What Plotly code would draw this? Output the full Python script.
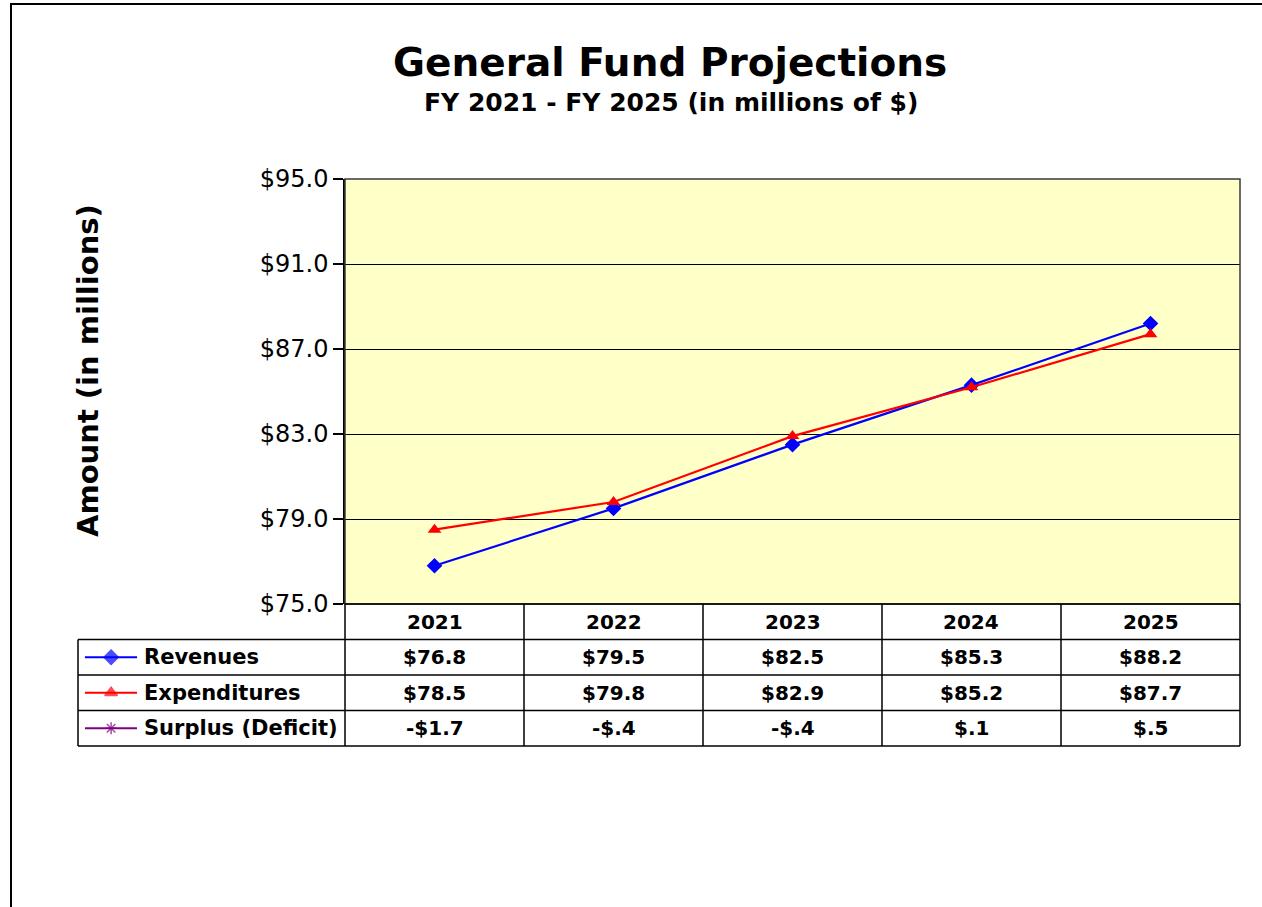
import plotly.graph_objects as go

# ---- data -------------------------------------------------------------
years = ["2021", "2022", "2023", "2024", "2025"]
revenues = [76.8, 79.5, 82.5, 85.3, 88.2]
expenditures = [78.5, 79.8, 82.9, 85.2, 87.7]
surplus = [-1.7, -0.4, -0.4, 0.1, 0.5]
series_names = ["Revenues", "Expenditures", "Surplus (Deficit)"]
y_ticks = [75, 79, 83, 87, 91, 95]

# ---- layout constants (pixels) ----------------------------------------
W, H = 1262, 907
ML, MR, MT, MB = 78, 22, 179, 161
LEGEND_COL_W = 267          # width of the series-name column of the data table
TABLE_H = 142               # height of the data table under the chart
N_ROWS = 4                  # header row + one row per series

plot_w = W - ML - MR
plot_h = H - MT - MB
d0 = LEGEND_COL_W / plot_w  # start of the chart's x domain (paper units)
tb = TABLE_H / plot_h       # top of the table / bottom of the chart (paper units)

FONT = "DejaVu Sans"
BLUE, RED, PURPLE = "#0000FF", "#FF0000", "#800080"


def money(v):
    s = f"{abs(v):.1f}"
    if s.startswith("0"):
        s = s[1:]
    return ("-" if v < 0 else "") + "$" + s


def px_x(x):
    return (x - ML) / plot_w


def px_y(y):
    return (H - MB - y) / plot_h


def col_center(i):
    return d0 + (i + 0.5) / len(years) * (1 - d0)


def row_center(r):
    return tb * (1 - (r + 0.5) / N_ROWS)


xi = list(range(len(years)))

fig = go.Figure()

# chart lines
fig.add_trace(go.Scatter(
    x=xi, y=revenues, mode="lines+markers", name=series_names[0],
    line=dict(color=BLUE, width=2.2),
    marker=dict(symbol="diamond", size=12, color=BLUE),
    xaxis="x", yaxis="y", cliponaxis=True,
))
fig.add_trace(go.Scatter(
    x=xi, y=expenditures, mode="lines+markers", name=series_names[1],
    line=dict(color=RED, width=2.2),
    marker=dict(symbol="triangle-up", size=12, color=RED),
    xaxis="x", yaxis="y", cliponaxis=True,
))
fig.add_trace(go.Scatter(
    x=xi, y=surplus, mode="lines+markers", name=series_names[2],
    line=dict(color=PURPLE, width=2),
    marker=dict(symbol="asterisk", size=10, line=dict(color=PURPLE, width=1.5)),
    xaxis="x", yaxis="y", cliponaxis=True,
))

# legend keys inside the table's first column
key_styles = [
    dict(color=BLUE, symbol="diamond", size=11),
    dict(color=RED, symbol="triangle-up", size=11),
    dict(color=PURPLE, symbol="asterisk", size=10),
]
for r, st in enumerate(key_styles, start=1):
    fig.add_trace(go.Scatter(
        x=[0.026, 0.124, 0.221], y=[r + 0.5] * 3, mode="lines+markers",
        line=dict(color=st["color"], width=2),
        marker=dict(symbol=st["symbol"], size=[0, st["size"], 0], color=st["color"],
                    line=dict(color=st["color"], width=1.5)),
        xaxis="x2", yaxis="y2", hoverinfo="skip", showlegend=False,
    ))

shapes = []
# yellow plot area
shapes.append(dict(type="rect", xref="x domain", yref="y domain", x0=0, x1=1, y0=0, y1=1,
                   fillcolor="#FFFFC8", line=dict(width=0), layer="below"))
# plot area border
shapes.append(dict(type="rect", xref="x domain", yref="y domain", x0=0, x1=1, y0=0, y1=1,
                   line=dict(color="#3a3a3a", width=1.5), layer="above"))

# table grid
tline = dict(color="black", width=1.5)
col_edges = [d0 + k / len(years) * (1 - d0) for k in range(len(years) + 1)]
row_edges = [tb * (1 - r / N_ROWS) for r in range(N_ROWS + 1)]
for k, xe in enumerate(col_edges):
    shapes.append(dict(type="line", xref="paper", yref="paper", x0=xe, x1=xe,
                       y0=row_edges[-1], y1=row_edges[0], line=tline))
shapes.append(dict(type="line", xref="paper", yref="paper", x0=0, x1=0,
                   y0=row_edges[-1], y1=row_edges[1], line=tline))
for r, ye in enumerate(row_edges):
    x_start = d0 if r == 0 else 0
    shapes.append(dict(type="line", xref="paper", yref="paper", x0=x_start, x1=1,
                       y0=ye, y1=ye, line=tline))

# outer chart frame
shapes.append(dict(type="rect", xref="paper", yref="paper",
                   x0=px_x(11), x1=px_x(W + 40), y0=px_y(H + 40), y1=px_y(4),
                   line=dict(color="black", width=2), fillcolor="rgba(0,0,0,0)"))

annotations = []
annotations.append(dict(text="<b>General Fund Projections</b>", xref="paper", yref="paper",
                        x=px_x(670), y=px_y(62), showarrow=False,
                        font=dict(family=FONT, size=39, color="black"),
                        xanchor="center", yanchor="middle"))
annotations.append(dict(text="<b>FY 2021 - FY 2025 (in millions of $)</b>", xref="paper",
                        yref="paper", x=px_x(671), y=px_y(102), showarrow=False,
                        font=dict(family=FONT, size=25, color="black"),
                        xanchor="center", yanchor="middle"))
annotations.append(dict(text="<b>Amount (in millions)</b>", xref="paper", yref="paper",
                        x=px_x(88), y=px_y(371), showarrow=False, textangle=-90,
                        font=dict(family=FONT, size=29, color="black"),
                        xanchor="center", yanchor="middle"))

cell_font = dict(family=FONT, size=20, color="black")
for i, yr in enumerate(years):
    annotations.append(dict(text=f"<b>{yr}</b>", xref="paper", yref="paper",
                            x=col_center(i), y=row_center(0), showarrow=False,
                            font=cell_font, xanchor="center", yanchor="middle"))
for r, (name, vals) in enumerate(zip(series_names, [revenues, expenditures, surplus]), start=1):
    annotations.append(dict(text=f"<b>{name}</b>", xref="paper", yref="paper",
                            x=px_x(ML + 0.24 * LEGEND_COL_W), y=row_center(r), showarrow=False,
                            font=dict(family=FONT, size=21, color="black"),
                            xanchor="left", yanchor="middle"))
    for i, v in enumerate(vals):
        annotations.append(dict(text=f"<b>{money(v)}</b>", xref="paper", yref="paper",
                                x=col_center(i), y=row_center(r), showarrow=False,
                                font=cell_font, xanchor="center", yanchor="middle"))

fig.update_layout(
    width=W, height=H,
    margin=dict(l=ML, r=MR, t=MT, b=MB, pad=0),
    paper_bgcolor="white", plot_bgcolor="rgba(0,0,0,0)",
    showlegend=False,
    xaxis=dict(domain=[d0, 1], range=[-0.5, len(years) - 0.5], showticklabels=False,
               showgrid=False, zeroline=False, ticks="", showline=False, fixedrange=True),
    yaxis=dict(domain=[tb, 1], range=[y_ticks[0], y_ticks[-1]], tickvals=y_ticks,
               tickformat="$.1f", ticks="outside", ticklen=10,
               tickcolor="black", tickwidth=1.5,
               tickfont=dict(family=FONT, size=24, color="black"),
               showgrid=True, gridcolor="black", gridwidth=1, zeroline=False,
               showline=True, linecolor="black", linewidth=1.5, anchor="x"),
    xaxis2=dict(domain=[0, d0], range=[0, 1], visible=False, anchor="y2"),
    yaxis2=dict(domain=[0, tb], range=[N_ROWS, 0], visible=False, anchor="x2"),
    shapes=shapes,
    annotations=annotations,
)

fig.write_html("out.html")
